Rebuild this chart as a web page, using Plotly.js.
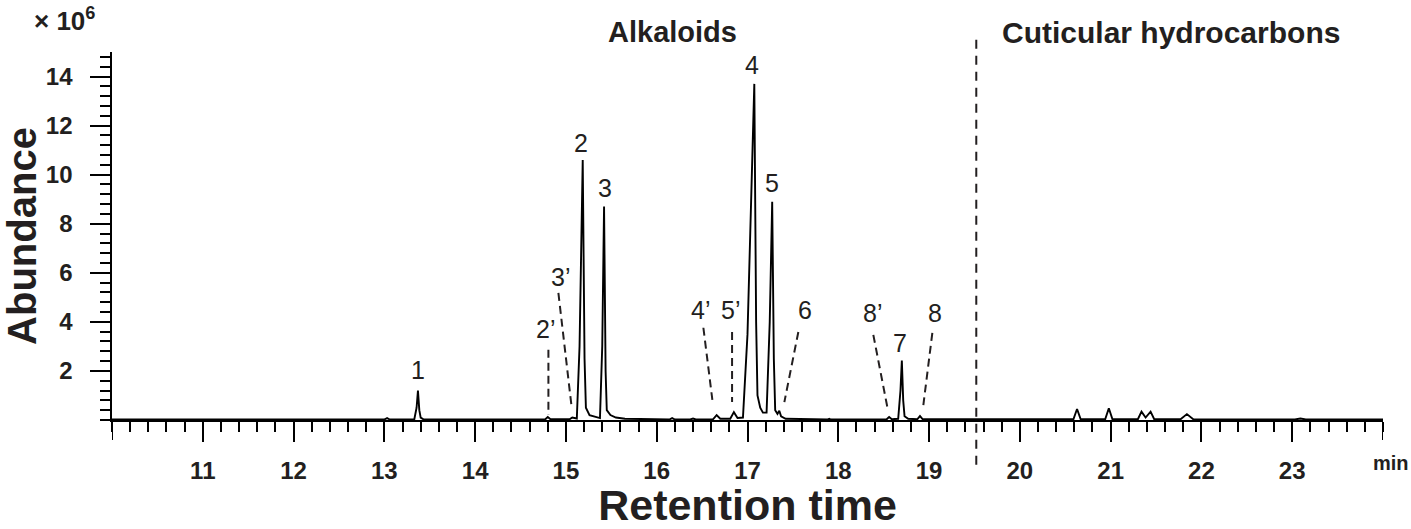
<!DOCTYPE html>
<html>
<head>
<meta charset="utf-8">
<script src="https://cdn.plot.ly/plotly-3.0.1.min.js"></script>
<style>html,body{margin:0;padding:0;background:#fff;}#chart{width:1411px;height:529px;}</style>
</head>
<body>
<div id="chart"></div>
<script>
// Chromatogram trace (retention time in min, abundance in 10^6)
const rtMin = [
  10.0, 13.0, 13.03, 13.06,
  13.33, 13.355, 13.37, 13.385, 13.40, 13.43,
  14.77, 14.80, 14.83,
  15.04, 15.07, 15.10,
  15.12, 15.15, 15.185, 15.205, 15.22, 15.26, 15.30, 15.34,
  15.375, 15.40, 15.42, 15.437, 15.45, 15.49, 15.55, 15.65,
  16.14, 16.17, 16.20,
  16.37, 16.40, 16.43,
  16.62, 16.66, 16.70,
  16.81, 16.85, 16.89,
  16.95, 17.00, 17.04, 17.075, 17.095, 17.11, 17.14, 17.17,
  17.21, 17.245, 17.272, 17.29, 17.305, 17.33, 17.35, 17.37, 17.42,
  17.88, 17.90, 17.92,
  18.53, 18.56, 18.59,
  18.66, 18.685, 18.70, 18.715, 18.73, 18.77,
  18.87, 18.90, 18.93,
  20.59, 20.63, 20.67,
  20.94, 20.98, 21.02,
  21.30, 21.34, 21.385, 21.44, 21.48,
  21.77, 21.84, 21.91,
  23.03, 23.09, 23.15,
  24.0
];
const abundance = [
  0.02, 0.02, 0.08, 0.02,
  0.03, 0.5, 1.2, 0.4, 0.1, 0.03,
  0.02, 0.12, 0.03,
  0.03, 0.1, 0.06,
  0.06, 3.0, 10.6, 2.5, 0.5, 0.2, 0.15, 0.1,
  0.08, 3.0, 8.7, 2.0, 0.4, 0.2, 0.1, 0.05,
  0.02, 0.08, 0.02,
  0.02, 0.06, 0.02,
  0.03, 0.2, 0.05,
  0.05, 0.32, 0.08,
  0.1, 3.5, 9.0, 13.7, 4.0, 1.0, 0.5, 0.3,
  0.3, 4.0, 8.9, 2.5, 0.4, 0.25, 0.38, 0.15, 0.05,
  0.02, 0.05, 0.02,
  0.02, 0.12, 0.03,
  0.05, 1.2, 2.42, 0.8, 0.15, 0.05,
  0.03, 0.16, 0.03,
  0.03, 0.45, 0.03,
  0.03, 0.48, 0.03,
  0.03, 0.34, 0.1, 0.34, 0.03,
  0.03, 0.24, 0.03,
  0.02, 0.06, 0.02,
  0.02
];

// Peak labels
const peakLabels = ['1', '2', '3', '4', '5', '2’', '3’', '4’', '5’', '6', '7', '8’', '8'];
const labelRt   = [13.375, 15.17, 15.435, 17.05, 17.274, 14.78, 14.94, 16.48, 16.81, 17.63, 18.68, 18.375, 19.07];
const labelAbun = [2.04, 11.3, 9.47, 14.45, 9.67, 3.7, 5.84, 4.49, 4.49, 4.49, 3.14, 4.37, 4.37];

// Dashed leader lines for minor peaks
const leaderRt0   = [14.807, 14.917, 16.514, 16.83, 17.56, 18.386, 19.036];
const leaderAbun0 = [2.86, 5.18, 3.76, 3.59, 3.59, 3.47, 3.55];
const leaderRt1   = [14.807, 15.06, 16.613, 16.83, 17.406, 18.54, 18.937];
const leaderAbun1 = [0.2, 0.61, 0.82, 0.73, 0.73, 0.53, 0.61];

// Region divider and axis tick labels
const dividerRt = 19.52;
const xTickVals = [11, 12, 13, 14, 15, 16, 17, 18, 19, 20, 21, 22, 23];
const xTickText = ['11', '12', '13', '14', '15', '16', '17', '18', '19', '20', '21', '22', '23'];
const yTickVals = [2, 4, 6, 8, 10, 12, 14];
const yTickText = ['2', '4', '6', '8', '10', '12', '14'];

const FONT = 'Liberation Sans, Arial, sans-serif';
const INK = '#231f20';

const trace = {
  x: rtMin, y: abundance, type: 'scatter', mode: 'lines',
  line: {color: '#000', width: 1.9}, hoverinfo: 'x+y', showlegend: false
};

const annotations = peakLabels.map((t, i) => ({
  x: labelRt[i], y: labelAbun[i], xref: 'x', yref: 'y', text: t, showarrow: false,
  font: {family: FONT, size: 25, color: INK}, xanchor: 'center', yanchor: 'middle'
}));

annotations.push(
  {x: -0.037, y: 1.087, xref: 'paper', yref: 'paper', text: '<b>× 10<sup>6</sup></b>', showarrow: false,
   font: {family: FONT, size: 26, color: INK}, xanchor: 'center', yanchor: 'middle'},
  {x: 0.4408, y: 1.054, xref: 'paper', yref: 'paper', text: '<b>Alkaloids</b>', showarrow: false,
   font: {family: FONT, size: 29, color: INK}, xanchor: 'center', yanchor: 'middle'},
  {x: 0.8333, y: 1.054, xref: 'paper', yref: 'paper', text: '<b>Cuticular hydrocarbons</b>', showarrow: false,
   font: {family: FONT, size: 30, color: INK}, xanchor: 'center', yanchor: 'middle'},
  {x: 1.0063, y: -0.117, xref: 'paper', yref: 'paper', text: '<b>min</b>', showarrow: false,
   font: {family: FONT, size: 20, color: INK}, xanchor: 'center', yanchor: 'middle'}
);

const shapes = leaderRt0.map((x0, i) => ({
  type: 'line', xref: 'x', yref: 'y', x0: x0, y0: leaderAbun0[i], x1: leaderRt1[i], y1: leaderAbun1[i],
  line: {color: INK, width: 2, dash: '8px,5px'}
}));
shapes.push({
  type: 'line', xref: 'x', yref: 'paper', x0: dividerRt, x1: dividerRt, y0: 1.033, y1: -0.136,
  line: {color: INK, width: 2, dash: '9px,7px'}
});
// major ticks at both ends of the time axis (10 and 24 min, unlabeled)
[10, 24].forEach(v => shapes.push({
  type: 'line', xref: 'x', yref: 'paper', x0: v, x1: v, y0: 0, y1: -0.0545,
  line: {color: '#000', width: 2}
}));

const layout = {
  width: 1411, height: 529,
  margin: {l: 112, r: 28, t: 52, b: 109},
  paper_bgcolor: '#fff', plot_bgcolor: '#fff',
  font: {family: FONT, color: INK},
  xaxis: {
    range: [10, 24], tickmode: 'array', tickvals: xTickVals,
    ticktext: xTickText.map(s => '<b>' + s + '</b>'),
    ticks: 'outside', ticklen: 20, tickwidth: 2, tickcolor: '#000',
    showline: true, linewidth: 2, linecolor: '#000', showgrid: false, zeroline: false,
    tickfont: {family: FONT, size: 24, color: INK},
    ticklabelstandoff: 8,
    minor: {tickmode: 'linear', tick0: 10, dtick: 0.2, ticks: 'outside', ticklen: 10, tickwidth: 2, tickcolor: '#000'},
    title: {text: '<b>Retention time</b>', font: {family: FONT, size: 43, color: INK}, standoff: 18},
    fixedrange: true
  },
  yaxis: {
    range: [0, 15], tickmode: 'array', tickvals: yTickVals,
    ticktext: yTickText.map(s => '<b>' + s + '\u00a0</b>'),
    ticks: 'outside', ticklen: 20, tickwidth: 2, tickcolor: '#000',
    showline: true, linewidth: 2, linecolor: '#000', showgrid: false, zeroline: false,
    tickfont: {family: FONT, size: 24, color: INK},
    ticklabelstandoff: 6,
    minor: {tickmode: 'linear', tick0: 0, dtick: 0.4, ticks: 'outside', ticklen: 10, tickwidth: 2, tickcolor: '#000'},
    title: {text: '<b>Abundance</b>', font: {family: FONT, size: 40, color: INK}, standoff: 4},
    fixedrange: true
  },
  annotations: annotations,
  shapes: shapes,
  showlegend: false
};

Plotly.newPlot('chart', [trace], layout, {displayModeBar: false, staticPlot: true});
</script>
</body>
</html>
